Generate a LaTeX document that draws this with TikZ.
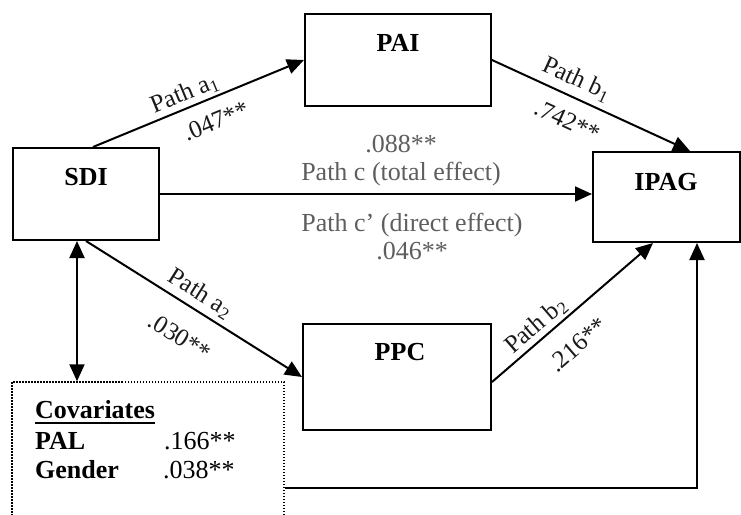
\documentclass[tikz,border=0pt]{standalone}
\usepackage{fontspec}
\setmainfont{Liberation Serif}
\usetikzlibrary{arrows.meta}
\definecolor{midgray}{HTML}{5E5E5E}
\definecolor{inkblack}{HTML}{1A1A1A}

\begin{document}
\begin{tikzpicture}[x=1pt,y=-1pt,
  box/.style={draw, line width=2pt, inner sep=0pt},
  boxname/.style={font=\fontsize{26}{30}\selectfont\bfseries, inner sep=0pt},
  arr/.style={line width=2pt, -{Triangle[length=17pt,width=15pt]}},
  dblarr/.style={line width=2pt, {Triangle[length=17pt,width=15pt]}-{Triangle[length=17pt,width=15pt]}},
  plabel/.style={font=\fontsize{25}{28}\selectfont, text=inkblack, inner sep=0pt, sloped, anchor=center},
  midlabel/.style={font=\fontsize{26}{28}\selectfont, text=midgray, align=center, inner sep=0pt},
  covtext/.style={font=\fontsize{26}{30}\selectfont, inner sep=0pt, anchor=base west},
]
\useasboundingbox (0,0) rectangle (741,514);

% variable boxes
\node[box, minimum width=146pt, minimum height=92pt]  (sdi)  at (86,194)    {};
\node[box, minimum width=186pt, minimum height=92pt]  (pai)  at (398,60)    {};
\node[box, minimum width=147pt, minimum height=90pt]  (ipag) at (666.5,197) {};
\node[box, minimum width=188pt, minimum height=106pt] (ppc)  at (397,377)   {};

\node[boxname] (sdiname)  at (86,177)  {SDI};
\node[boxname] (painame)  at (398,43)  {PAI};
\node[boxname] (ipagname) at (666,182) {IPAG};
\node[boxname] (ppcname)  at (400,352) {PPC};

% covariates box (open towards the bottom edge)
\node[draw, line width=1.5pt, dash pattern=on 1.5pt off 1.5pt,
      minimum width=272pt, minimum height=158pt, inner sep=0pt] (cov) at (148,461) {};
\node[covtext, font=\fontsize{26}{30}\selectfont\bfseries] (covtitle) at (35,418) {Covariates};
\draw[line width=2pt] ([yshift=-4.5pt]covtitle.base west) -- ([yshift=-4.5pt]covtitle.base east);
\node[covtext, font=\fontsize{26}{30}\selectfont\bfseries] (pal)    at (35,449)  {PAL};
\node[covtext] (palval) at (164,449) {.166**};
\node[covtext, font=\fontsize{26}{30}\selectfont\bfseries] (gender) at (35,478)  {Gender};
\node[covtext] (genval) at (163,478) {.038**};

% indirect path through PAI
\draw[arr] ([xshift=7pt]sdi.north) -- (pai.west)
  node[plabel, pos=0.46, yshift=14.5pt] {Path a\textsubscript{1}}
  node[plabel, pos=0.54, yshift=-23pt] {.047**};
\draw[arr] (pai.east) -- ([xshift=23.5pt]ipag.north)
  node[plabel, pos=0.39, yshift=17.5pt] {Path b\textsubscript{1}}
  node[plabel, pos=0.43, yshift=-24pt] {.742**};

% indirect path through PPC
\draw[arr] (sdi.south) -- (ppc.west)
  node[plabel, pos=0.49, yshift=16.5pt] {Path a\textsubscript{2}}
  node[plabel, pos=0.51, yshift=-31pt] {.030**};
\draw[arr] ([yshift=-5pt]ppc.east) -- ([xshift=-13.5pt]ipag.south)
  node[plabel, pos=0.33, yshift=14pt] {Path b\textsubscript{2}}
  node[plabel, pos=0.42, yshift=-28pt] {.216**};

% direct path
\draw[arr] (sdi.east) -- (sdi.east -| ipag.west);
\node[midlabel] (ctotal)  at (401,161) {.088**\\Path c (total effect)};
\node[midlabel] (cdirect) at (412,237) {Path c’ (direct effect)\\.046**};

% covariates
\draw[dblarr] ([xshift=-9pt]sdi.south) -- ([xshift=-9pt]sdi.south |- cov.north);
\coordinate (covbend) at (697,488);
\draw[arr] (cov.east |- covbend) -- (covbend) -- (covbend |- ipag.south);
\end{tikzpicture}
\end{document}
